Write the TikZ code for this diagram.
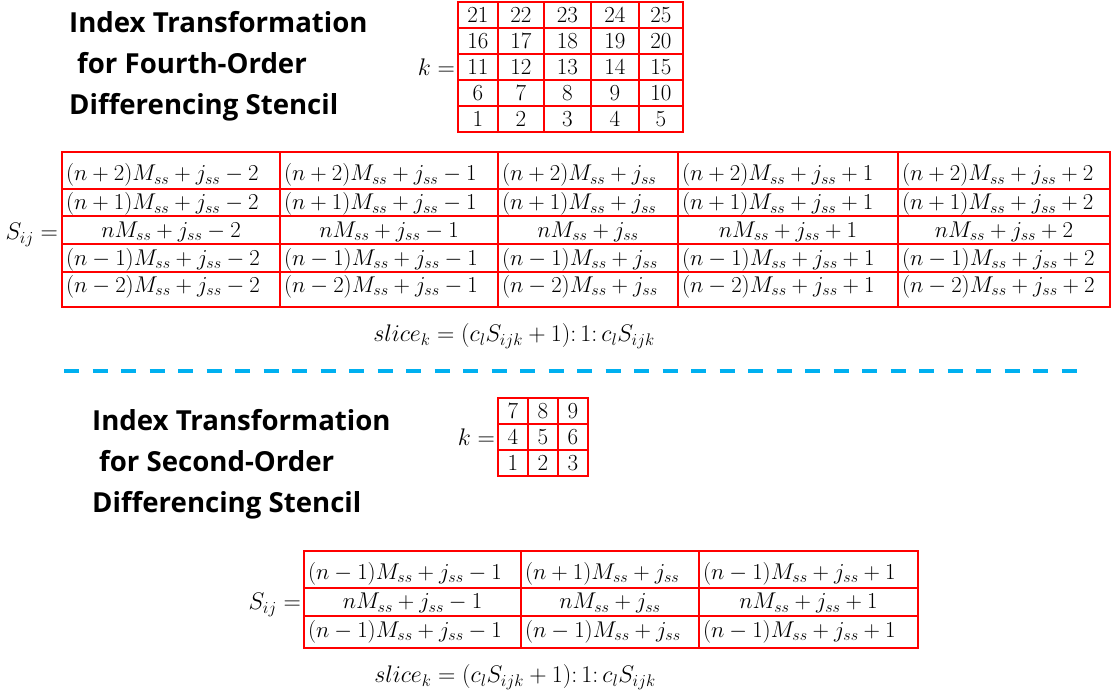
\RequirePackage{fix-cm}
\documentclass[tikz,border=0pt]{standalone}
\usepackage{fontspec}
\newfontfamily\headfont{Open Sans}
\definecolor{sepblue}{HTML}{00B0F0}

\tikzset{
  cellbox/.style={draw=red, line width=1.4pt, inner xsep=4pt, inner ysep=0pt,
    font=\fontsize{22.8}{27}\selectfont},
  numbox/.style={draw=red, line width=1.4pt, inner sep=0pt,
    text height=15pt, text depth=0pt, font=\fontsize{23}{27}\selectfont},
  eqlabel/.style={inner sep=0pt, font=\fontsize{24}{28}\selectfont},
  headtext/.style={inner sep=0pt, align=left,
    font=\headfont\bfseries\fontsize{27.6}{41}\selectfont},
  sepline/.style={draw=sepblue, line width=4pt, dash pattern=on 15pt off 13.5pt}
}

% a table cell spanning (xa,ya)--(xb,yb) with a formula in it;
% #8/#9 are the text height/depth that set where the formula sits
\newcommand\cellat[9]{%
  \pgfmathsetmacro\cellW{#4-#2}%
  \pgfmathsetmacro\cellTW{#4-#2-8}%
  \pgfmathsetmacro\cellH{#5-#3}%
  \node[cellbox, minimum width=\cellW pt, minimum height=\cellH pt,
    text width=\cellTW pt, align=#6, text height=#8pt, text depth=#9pt]
    (#1) at ({(#2+#4)/2},{(#3+#5)/2}) {\mbox{$#7$}};}
% a table cell holding one index number
\newcommand\numat[6]{%
  \pgfmathsetmacro\cellW{#4-#2}%
  \pgfmathsetmacro\cellH{#5-#3}%
  \node[numbox, minimum width=\cellW pt, minimum height=\cellH pt]
    (#1) at ({(#2+#4)/2},{(#3+#5)/2}) {$#6$};}

\begin{document}
\begin{tikzpicture}[x=1pt,y=-1pt]
\useasboundingbox (0,0) rectangle (1112,690);

% ---------- fourth-order stencil ----------
\node[headtext, anchor=north west] (head4) at (69,11)
  {Index Transformation\\\hspace*{8pt}for Fourth-Order\\Differencing Stencil};

\node[eqlabel, anchor=east] (k4) at (455,67) {$k=$};
\foreach \r/\ya/\yb/\base in {1/2/28/20, 2/28/54/15, 3/54/80/10, 4/80/106/5, 5/106/132/0}
  \foreach \c/\xa/\xb in {1/458/498, 2/498/544, 3/544/591, 4/591/639, 5/639/683} {
    \pgfmathtruncatemacro\kval{\base+\c}
    \numat{K4-\r-\c}{\xa}{\ya}{\xb}{\yb}{\kval}
  }

\node[eqlabel, anchor=east] (S4) at (58,235) {$S_{ij}=$};
\foreach \r/\ya/\yb/\pre/\al/\th/\td in {1/152/189/(n+2)/left/25/4,
    2/189/216/(n+1)/left/19/4, 3/216/244/n/center/19/4,
    4/244/272/(n-1)/left/19/4, 5/272/307/(n-2)/left/15.5/10}
  \foreach \c/\xa/\xb/\suf in {1/62/280/-2, 2/280/498/-1, 3/498/678/{},
      4/678/898/+1, 5/898/1110/+2} {
    \cellat{A4-\r-\c}{\xa}{\ya}{\xb}{\yb}{\al}{\pre M_{ss}+j_{ss}\suf}{\th}{\td}
  }

\node[eqlabel] (slice4) at (514,336)
  {$slice_k=(c_lS_{ijk}+1)\mathpunct{:}1\mathpunct{:}c_lS_{ijk}$};

% ---------- separator ----------
\coordinate (sepL) at (64,371);
\coordinate (sepR) at (1087,371);
\draw[sepline] (sepL) -- (sepR);

% ---------- second-order stencil ----------
\node[headtext, anchor=north west] (head2) at (92,409)
  {Index Transformation\\\hspace*{7pt}for Second-Order\\Differencing Stencil};

\node[eqlabel, anchor=east] (k2) at (495,437) {$k=$};
\foreach \r/\ya/\yb/\base in {1/398/424/6, 2/424/450/3, 3/450/476/0}
  \foreach \c/\xa/\xb in {1/498/528, 2/528/558, 3/558/588} {
    \pgfmathtruncatemacro\kval{\base+\c}
    \numat{K2-\r-\c}{\xa}{\ya}{\xb}{\yb}{\kval}
  }

\node[eqlabel, anchor=east] (S2) at (301,605) {$S_{ij}=$};
\cellat{A2-1-1}{304}{551}{521}{588}{left}{(n-1)M_{ss}+j_{ss}-1}{23.5}{4}
\cellat{A2-1-2}{521}{551}{699}{588}{left}{(n+1)M_{ss}+j_{ss}}{23.5}{4}
\cellat{A2-1-3}{699}{551}{918}{588}{left}{(n-1)M_{ss}+j_{ss}+1}{23.5}{4}
\cellat{A2-2-1}{304}{588}{521}{616}{center}{nM_{ss}+j_{ss}-1}{17.5}{4}
\cellat{A2-2-2}{521}{588}{699}{616}{center}{nM_{ss}+j_{ss}}{17.5}{4}
\cellat{A2-2-3}{699}{588}{918}{616}{center}{nM_{ss}+j_{ss}+1}{17.5}{4}
\cellat{A2-3-1}{304}{616}{521}{648}{left}{(n-1)M_{ss}+j_{ss}-1}{16}{5}
\cellat{A2-3-2}{521}{616}{699}{648}{left}{(n-1)M_{ss}+j_{ss}}{16}{5}
\cellat{A2-3-3}{699}{616}{918}{648}{left}{(n-1)M_{ss}+j_{ss}+1}{16}{5}

\node[eqlabel] (slice2) at (515,677)
  {$slice_k=(c_lS_{ijk}+1)\mathpunct{:}1\mathpunct{:}c_lS_{ijk}$};
\end{tikzpicture}
\end{document}
